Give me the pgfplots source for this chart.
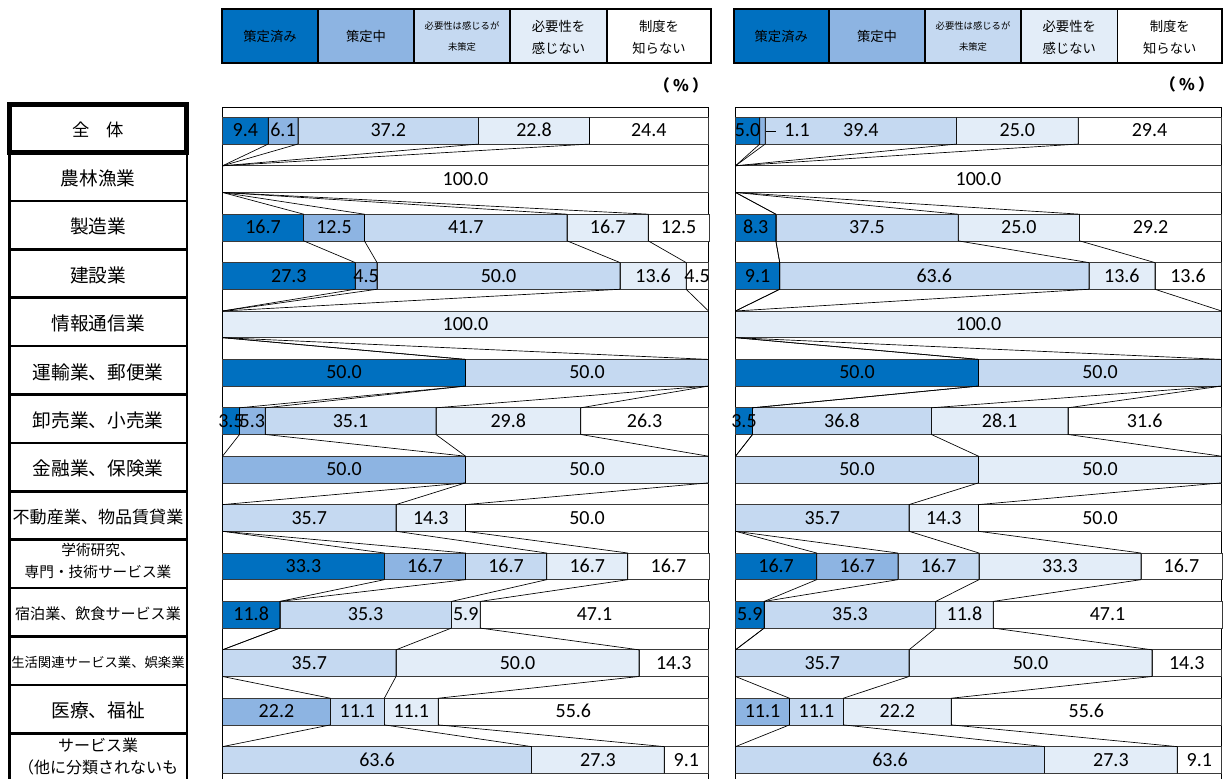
\documentclass[border=0pt]{standalone}
\usepackage{fontspec}
\setmainfont{Carlito}
\newfontfamily\jp{Noto Sans CJK JP}
\usepackage{pgfplots}
\pgfplotsset{compat=1.18}
\usepackage{pgfplotstable}

\definecolor{cA}{HTML}{0070C0}
\definecolor{cB}{HTML}{8DB4E2}
\definecolor{cC}{HTML}{C5D9F1}
\definecolor{cD}{HTML}{E3EDF8}
\definecolor{cE}{HTML}{FFFFFF}
\definecolor{edge}{HTML}{3A3A3A}

% a=策定済み b=策定中 c=必要性は感じるが未策定 d=必要性を感じない e=制度を知らない
\pgfplotstableread{
a b c d e
9.4 6.1 37.2 22.8 24.4
0 0 0 0 100.0
16.7 12.5 41.7 16.7 12.5
27.3 4.5 50.0 13.6 4.5
0 0 0 100.0 0
50.0 0 50.0 0 0
3.5 5.3 35.1 29.8 26.3
0 50.0 0 50.0 0
0 0 35.7 14.3 50.0
33.3 16.7 16.7 16.7 16.7
11.8 0 35.3 5.9 47.1
0 0 35.7 50.0 14.3
0 22.2 11.1 11.1 55.6
0 0 63.6 27.3 9.1
}\tblL

\pgfplotstableread{
a b c d e
5.0 1.1 39.4 25.0 29.4
0 0 0 0 100.0
8.3 0 37.5 25.0 29.2
9.1 0 63.6 13.6 13.6
0 0 0 100.0 0
50.0 0 50.0 0 0
3.5 0 36.8 28.1 31.6
0 0 50.0 50.0 0
0 0 35.7 14.3 50.0
16.7 16.7 16.7 33.3 16.7
5.9 0 35.3 11.8 47.1
0 0 35.7 50.0 14.3
0 11.1 11.1 22.2 55.6
0 0 63.6 27.3 9.1
}\tblR

\def\hw{0.2755}

% connector lines: cumulative boundaries, top and bottom of every bar
\newcommand\makeconn[2]{%
  \def\tmpA{}\def\tmpB{}\def\tmpC{}\def\tmpD{}%
  \pgfplotstablegetrowsof{#1}%
  \pgfmathtruncatemacro\lastrow{\pgfplotsretval-1}%
  \pgfplotsforeachungrouped \ri in {0,...,\lastrow}{%
    \pgfplotstablegetelem{\ri}{a}\of#1\let\va\pgfplotsretval
    \pgfplotstablegetelem{\ri}{b}\of#1\let\vb\pgfplotsretval
    \pgfplotstablegetelem{\ri}{c}\of#1\let\vc\pgfplotsretval
    \pgfplotstablegetelem{\ri}{d}\of#1\let\vd\pgfplotsretval
    \pgfmathsetmacro\sA{\va}%
    \pgfmathsetmacro\sB{\sA+\vb}%
    \pgfmathsetmacro\sC{\sB+\vc}%
    \pgfmathsetmacro\sD{\sC+\vd}%
    \pgfmathsetmacro\yt{\ri-\hw}%
    \pgfmathsetmacro\yb{\ri+\hw}%
    \edef\tmpA{\tmpA (\sA,\yt) (\sA,\yb)}%
    \edef\tmpB{\tmpB (\sB,\yt) (\sB,\yb)}%
    \edef\tmpC{\tmpC (\sC,\yt) (\sC,\yb)}%
    \edef\tmpD{\tmpD (\sD,\yt) (\sD,\yb)}%
  }%
  \expandafter\let\csname #2A\endcsname\tmpA
  \expandafter\let\csname #2B\endcsname\tmpB
  \expandafter\let\csname #2C\endcsname\tmpC
  \expandafter\let\csname #2D\endcsname\tmpD
}
\makeconn{\tblL}{connL}
\makeconn{\tblR}{connR}

\newcommand\drawconn[1]{\edef\tmpc{\noexpand\addplot[conn] coordinates {\csname #1\endcsname};}\tmpc}

\newcommand\numfont{\fontsize{15}{18}\selectfont}
% zero-size box: the number is centred on the point whatever the anchor
\newcommand\cbox[2]{\makebox[0pt][#1]{\smash{\raisebox{-4.6pt}{#2}}}}
\newcommand\labeltext{%
  \pgfmathfloatifflags{\pgfplotspointmeta}{0}{}{%
    \pgfmathfloattofixed{\pgfplotspointmeta}\let\pmv\pgfmathresult
    \ifdim\pmv pt<2pt
      \cbox{l}{\hspace{2.5pt}\rule[3.8pt]{8pt}{0.6pt}\hspace{6pt}\pgfmathprintnumber{\pgfplotspointmeta}}%
    \else
      \cbox{c}{\pgfmathprintnumber{\pgfplotspointmeta}}%
    \fi}}

\pgfplotsset{
  frame/.style={anchor=north west, scale only axis, width=364.5pt, height=511.5pt,
    xmin=0, xmax=100, ymin=-0.49, ymax=13.6, y dir=reverse,
    ticks=none, clip=false,
    axis line style={draw=black, line width=0.6pt},
    /pgf/number format/.cd, fixed, fixed zerofill, precision=1, assume math mode=true},
  seg/.style={fill=#1, draw=edge, line width=0.5pt},
  conn/.style={stack plots=false, sharp plot, draw=black, line width=0.5pt, mark=none},
  lbl/.style={only marks, mark=*, mark size=0pt,
    mark options={draw=none, fill=none}, point meta=explicit,
    nodes near coords={\labeltext},
    every node near coord/.append style={inner sep=0pt, outer sep=0pt, text=black,
      font=\numfont, anchor=center}},
}

\newcommand\panel[3]{%
\begin{axis}[frame, at={(#1,503.25pt)}, xbar stacked, bar width=0.551]
  \drawconn{#3A}\drawconn{#3B}\drawconn{#3C}\drawconn{#3D}
  \addplot[seg=cA] table[x=a, y expr=\coordindex] {#2};
  \addplot[seg=cB] table[x=b, y expr=\coordindex] {#2};
  \addplot[seg=cC] table[x=c, y expr=\coordindex] {#2};
  \addplot[seg=cD] table[x=d, y expr=\coordindex] {#2};
  \addplot[seg=cE] table[x=e, y expr=\coordindex] {#2};
\end{axis}
% labels at the middle of every segment, in an overlaid axis of the same size
\begin{axis}[frame, at={(#1,503.25pt)}, hide axis]
  \addplot[lbl] table[x expr=\thisrow{a}/2, y expr=\coordindex, meta=a] {#2};
  \addplot[lbl] table[x expr=\thisrow{a}+\thisrow{b}/2, y expr=\coordindex, meta=b] {#2};
  \addplot[lbl] table[x expr=\thisrow{a}+\thisrow{b}+\thisrow{c}/2, y expr=\coordindex, meta=c] {#2};
  \addplot[lbl] table[x expr=\thisrow{a}+\thisrow{b}+\thisrow{c}+\thisrow{d}/2, y expr=\coordindex, meta=d] {#2};
  \addplot[lbl] table[x expr=\thisrow{a}+\thisrow{b}+\thisrow{c}+\thisrow{d}+\thisrow{e}/2, y expr=\coordindex, meta=e] {#2};
\end{axis}}

\newcommand\legendrow[6]{%
  \fill[cA] (#1,9.5) rectangle (#2,63);
  \fill[cB] (#2,9.5) rectangle (#3,63);
  \fill[cC] (#3,9.5) rectangle (#4,63);
  \fill[cD] (#4,9.5) rectangle (#5,63);
  \foreach \xx in {#2,#3,#4,#5} \draw[line width=0.9pt] (\xx,9.5) -- (\xx,63);
  \draw[line width=1.5pt] (#1,9.5) rectangle (#6,63);
  \node[font=\jp\fontsize{10}{12}\selectfont] at ({(#1+#2)/2},36.5) {策定済み};
  \node[font=\jp\fontsize{10}{12}\selectfont] at ({(#2+#3)/2},36.5) {策定中};
  \node[font=\jp\fontsize{7}{9}\selectfont] at ({(#3+#4)/2},25.5) {必要性は感じるが};
  \node[font=\jp\fontsize{7}{9}\selectfont] at ({(#3+#4)/2},46.5) {未策定};
  \node[font=\jp\fontsize{10}{12}\selectfont] at ({(#4+#5)/2},26.7) {必要性を};
  \node[font=\jp\fontsize{10}{12}\selectfont] at ({(#4+#5)/2},48.3) {感じない};
  \node[font=\jp\fontsize{10}{12}\selectfont] at ({(#5+#6)/2},26.7) {制度を};
  \node[font=\jp\fontsize{10}{12}\selectfont] at ({(#5+#6)/2},48.3) {知らない};
}

\begin{document}
\begin{tikzpicture}
\useasboundingbox (0,0) rectangle (918pt,583.5pt);
\clip (0,0) rectangle (918pt,583.5pt);
\begin{scope}[x=0.75pt,y=-0.75pt,shift={(0pt,583.5pt)}]
  \legendrow{222}{318}{414}{510}{607}{711}
  \legendrow{733.5}{829}{925}{1021}{1117.5}{1222}
  \node[font=\jp\bfseries\fontsize{12}{14}\selectfont] at (681,85) {（\hspace{2.5pt}\%\hspace{2.5pt}）};
  \node[font=\jp\bfseries\fontsize{12}{14}\selectfont] at (1187,84) {（\hspace{2.5pt}\%\hspace{2.5pt}）};
  % category boxes
  \foreach \k in {1,...,13}{\draw[line width=2pt] (9.5,{104.1+48.4*\k}) rectangle (187,{152.5+48.4*\k});}
  \draw[line width=3.5pt] (9.5,104.3) rectangle (186.5,152.3);
  \node[font=\jp\fontsize{13}{15}\selectfont] at (98,130) {全　体};
  \node[font=\jp\fontsize{14}{16}\selectfont] at (98,178.4) {農林漁業};
  \node[font=\jp\fontsize{14}{16}\selectfont] at (98,226.8) {製造業};
  \node[font=\jp\fontsize{14}{16}\selectfont] at (98,275.2) {建設業};
  \node[font=\jp\fontsize{14}{16}\selectfont] at (98,323.6) {情報通信業};
  \node[font=\jp\fontsize{14}{16}\selectfont] at (98,372) {運輸業、郵便業};
  \node[font=\jp\fontsize{14}{16}\selectfont] at (98,420.4) {卸売業、小売業};
  \node[font=\jp\fontsize{14}{16}\selectfont] at (98,468.8) {金融業、保険業};
  \node[font=\jp\fontsize{12.8}{15}\selectfont] at (98,517.2) {不動産業、物品賃貸業};
  \node[font=\jp\fontsize{11}{13}\selectfont] at (98,550) {学術研究、};
  \node[font=\jp\fontsize{11}{13}\selectfont] at (98,572) {専門・技術サービス業};
  \node[font=\jp\fontsize{11.3}{13}\selectfont] at (98,614) {宿泊業、飲食サービス業};
  \node[font=\jp\fontsize{10}{12}\selectfont] at (98,662.4) {生活関連サービス業、娯楽業};
  \node[font=\jp\fontsize{14}{16}\selectfont] at (98,710.8) {医療、福祉};
  \node[font=\jp\fontsize{12}{14}\selectfont] at (98,745) {サービス業};
  \node[font=\jp\fontsize{12}{14}\selectfont] at (98,767) {（他に分類されないも};
\end{scope}
\panel{166.875pt}{\tblL}{connL}
\panel{551.625pt}{\tblR}{connR}
\end{tikzpicture}
\end{document}
